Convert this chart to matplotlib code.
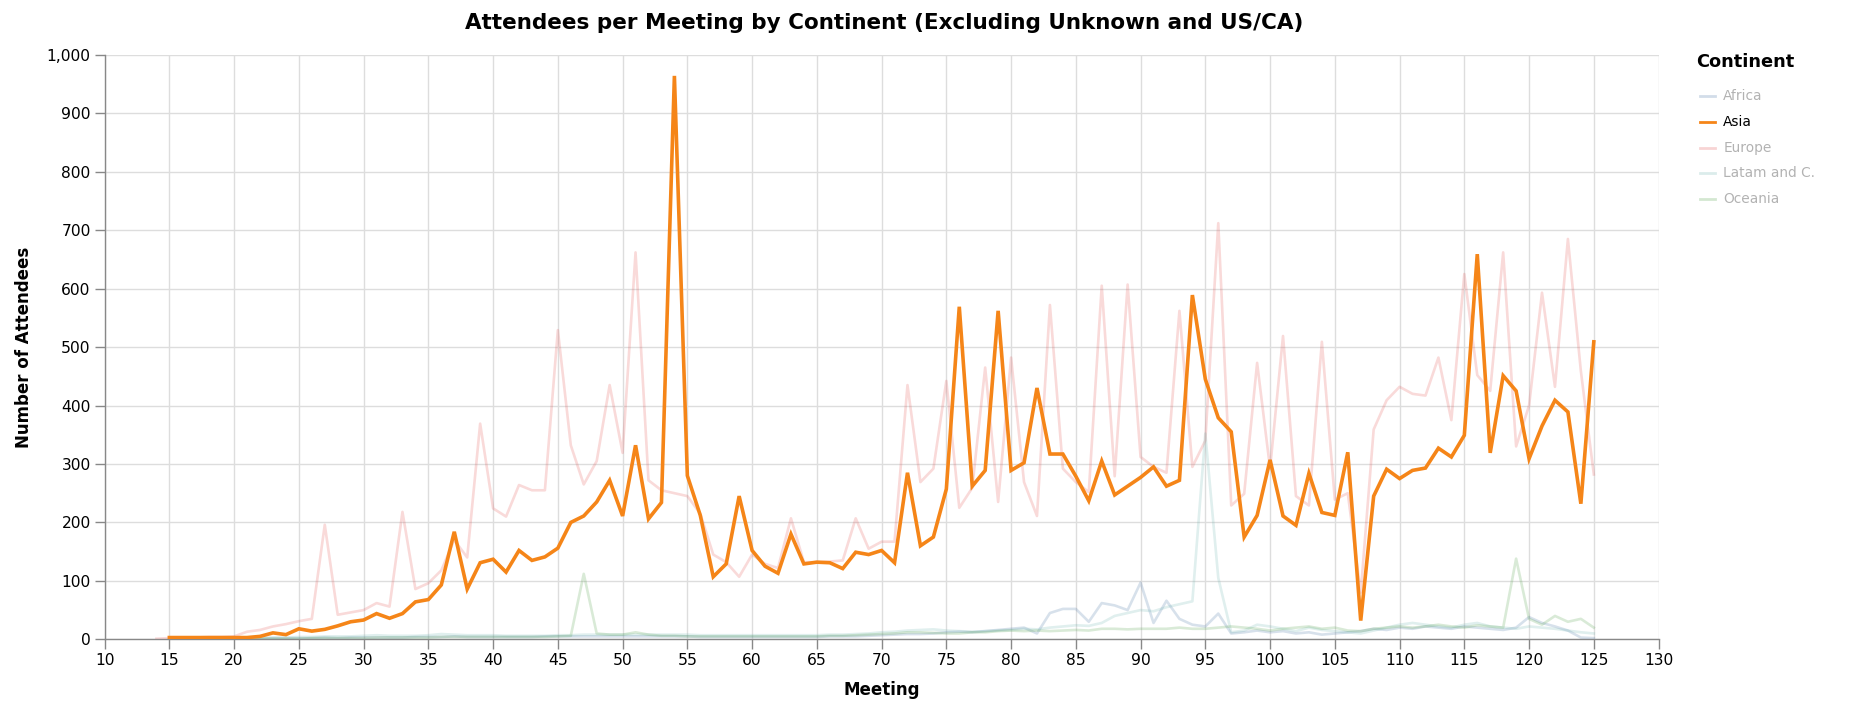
import numpy as np
import matplotlib.pyplot as plt
from matplotlib.lines import Line2D
from matplotlib.ticker import FuncFormatter, MultipleLocator

plt.rcParams['font.family'] = ['DejaVu Sans']

# ----------------------------------------------------------------------
# data, meetings 14..125
# ----------------------------------------------------------------------
meetings = list(range(14, 126))

asia = [np.nan,
        3, 3, 3, 3, 3, 3,
        3, 5, 11, 8, 18, 14, 17, 23, 30, 33,
        44, 36, 44, 64, 68, 93, 184, 86, 131, 137,
        115, 152, 135, 141, 156, 200, 211, 235, 272, 211,
        332, 206, 234, 964, 280, 212, 107, 129, 245, 152,
        125, 113, 180, 129, 132, 131, 121, 149, 145, 152,
        131, 285, 160, 175, 257, 569, 262, 289, 562, 289,
        302, 430, 317, 317, 279, 237, 305, 247, 262, 277,
        295, 262, 272, 589, 445, 379, 355, 175, 212, 307,
        211, 195, 284, 217, 212, 320, 32, 245, 291, 275,
        289, 293, 327, 312, 349, 659, 319, 451, 425, 309,
        365, 409, 389, 232, 509]

europe = [1,
          2, 3, 3, 4, 4, 5,
          13, 16, 22, 26, 31, 35, 196, 42, 46, 50,
          62, 56, 218, 86, 96, 118, 170, 140, 369, 224,
          210, 264, 255, 255, 529, 332, 265, 305, 435, 319,
          662, 272, 255, 250, 245, 215, 145, 132, 107, 145,
          129, 122, 207, 132, 132, 133, 135, 207, 155, 167,
          167, 435, 269, 292, 442, 225, 259, 465, 235, 482,
          269, 211, 572, 292, 269, 252, 605, 279, 607, 312,
          295, 285, 562, 295, 340, 712, 229, 249, 473, 292,
          519, 245, 229, 509, 239, 250, 80, 359, 409, 432,
          420, 417, 482, 375, 625, 452, 425, 662, 330, 400,
          593, 432, 685, 459, 282]

africa = [np.nan,
          0, 0, 0, 0, 1, 1,
          1, 1, 2, 2, 2, 2, 3, 2, 3, 3,
          3, 3, 3, 4, 4, 4, 5, 4, 4, 4,
          4, 4, 4, 5, 5, 5, 5, 5, 5, 5,
          5, 5, 5, 5, 5, 4, 4, 4, 4, 4,
          4, 4, 4, 4, 4, 5, 5, 5, 6, 7,
          8, 9, 9, 10, 12, 13, 12, 14, 16, 18,
          20, 10, 45, 52, 52, 30, 62, 58, 50, 97,
          28, 66, 35, 25, 22, 44, 10, 12, 15, 12,
          14, 10, 12, 8, 10, 12, 14, 18, 16, 20,
          18, 22, 20, 18, 22, 20, 18, 16, 20, 38,
          28, 22, 15, 3, 2]

latam = [np.nan,
         1, 1, 1, 1, 2, 2,
         2, 3, 3, 3, 4, 4, 5, 5, 5, 6,
         7, 6, 6, 6, 7, 9, 8, 7, 7, 7,
         6, 6, 6, 6, 7, 7, 8, 8, 8, 8,
         8, 8, 8, 8, 8, 7, 7, 7, 7, 7,
         7, 7, 7, 7, 7, 8, 8, 9, 10, 12,
         13, 15, 16, 17, 15, 14, 13, 14, 15, 16,
         18, 17, 20, 22, 24, 23, 28, 40, 45, 50,
         48, 55, 60, 65, 352, 105, 12, 15, 25, 22,
         18, 14, 20, 16, 14, 12, 10, 15, 20, 25,
         28, 25, 22, 20, 25, 28, 22, 20, 18, 22,
         20, 18, 15, 12, 10]

oceania = [np.nan,
           0, 0, 0, 0, 0, 0,
           1, 1, 1, 1, 1, 2, 2, 2, 2, 2,
           3, 3, 3, 3, 3, 4, 4, 4, 4, 4,
           4, 4, 4, 4, 5, 6, 112, 10, 8, 8,
           12, 8, 6, 6, 5, 5, 5, 5, 5, 5,
           5, 5, 5, 5, 5, 6, 6, 7, 8, 9,
           10, 12, 12, 11, 10, 10, 12, 12, 14, 15,
           14, 15, 14, 15, 16, 15, 18, 18, 17, 18,
           18, 18, 20, 18, 18, 20, 22, 20, 18, 15,
           18, 20, 22, 18, 20, 15, 14, 18, 20, 22,
           20, 22, 25, 22, 20, 24, 22, 20, 138, 35,
           25, 40, 30, 35, 20]

continents = ["Africa", "Asia", "Europe", "Latam and C.", "Oceania"]
series = [africa, asia, europe, latam, oceania]
colors = ["#4c78a8", "#f58518", "#e45756", "#72b7b2", "#54a24b"]
highlight = "Asia"

# ----------------------------------------------------------------------
# figure
# ----------------------------------------------------------------------
fig = plt.figure(figsize=(18.55, 7.03), dpi=100)
ax = fig.add_axes([0.0564, 0.0906, 0.8377, 0.8314])

for name, vals, col in zip(continents, series, colors):
    if name == highlight:
        ax.plot(meetings, vals, color=col, lw=2.6, zorder=5,
                solid_joinstyle='miter')
    else:
        ax.plot(meetings, vals, color=col, lw=1.9, alpha=0.22, zorder=3)

ax.set_xlim(10, 130)
ax.set_ylim(0, 1000)
ax.xaxis.set_major_locator(MultipleLocator(5))
ax.yaxis.set_major_locator(MultipleLocator(100))
ax.yaxis.set_major_formatter(FuncFormatter(lambda v, p: f"{int(v):,}"))

ax.grid(True, color="#dddddd", lw=1)
ax.set_axisbelow(True)
for side in ["top", "right"]:
    ax.spines[side].set_visible(False)
for side in ["left", "bottom"]:
    ax.spines[side].set_color("#888888")
    ax.spines[side].set_linewidth(1)
ax.tick_params(axis="both", colors="#888888", labelcolor="#000000",
               labelsize=11.2, length=7, width=1, pad=3)

ax.set_xlabel("Meeting", fontsize=12, fontweight="bold", labelpad=9)
ax.set_ylabel("Number of Attendees", fontsize=12, fontweight="bold",
              labelpad=10)
fig.suptitle("Attendees per Meeting by Continent (Excluding Unknown and US/CA)",
             x=0.4765, y=0.982, fontsize=15.5, fontweight="bold")

# legend drawn by hand (Vega-style, faded entries)
fig.text(0.9145, 0.912, "Continent", fontsize=12.8, fontweight="bold",
         va="center", ha="left")
for i, (name, col) in enumerate(zip(continents, colors)):
    yy = 0.863 - i * 0.0365
    a = 1.0 if name == highlight else 0.25
    fig.add_artist(Line2D([0.9165, 0.9245], [yy, yy], color=col, lw=2,
                          alpha=a, transform=fig.transFigure))
    fig.text(0.9290, yy, name, fontsize=9.9, va="center", ha="left",
             color="#000000", alpha=1.0 if name == highlight else 0.3)

fig.savefig("out.png", dpi=100)
